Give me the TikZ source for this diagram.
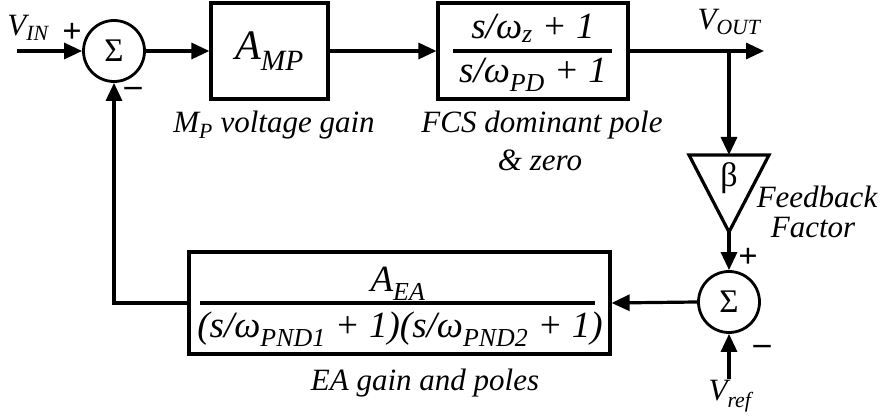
\documentclass[tikz,border=0pt]{standalone}
\usepackage{fontspec}
\setmainfont{Liberation Serif}[ItalicFont={Liberation Serif Italic}]
\usetikzlibrary{arrows.meta}
\tikzset{
  block/.style={draw, line width=3.2pt, inner sep=0pt},
  sumnode/.style={draw, circle, line width=2.8pt, minimum size=61pt, inner sep=0pt, font=\fontsize{33}{35}\selectfont},
  arr/.style={line width=3.2pt, -{Triangle[length=18pt,width=16pt]}},
  wire/.style={line width=3.2pt},
  lbl/.style={font=\fontsize{31}{34}\selectfont\itshape, inner sep=0pt},
  eqn/.style={font=\fontsize{37}{40}\selectfont\itshape, inner sep=0pt},
  sgn/.style={font=\fontsize{34}{36}\selectfont\bfseries, inner sep=0pt}
}
\begin{document}
\begin{tikzpicture}[x=1pt, y=-1pt]
    \useasboundingbox (0,0) rectangle (886,419);

    % Input summer
    \node[sumnode] (sum1) at (114,51) {Σ};
    \coordinate (vin) at (17,51);
    \node[lbl] (vinlbl) at (28,28) {V\textsubscript{IN}};
    \node[sgn] (plus1) at (72,33) {+};
    \node[sgn] (minus1) at (133,92) {–};

    % Mp gain
    \node[block, minimum width=117pt, minimum height=96pt] (amp) at (269.5,51) {};
    \node[eqn, font=\fontsize{42}{44}\selectfont\itshape] (amptxt) at (269.5,51) {A\textsubscript{MP}};
    \node[lbl] (amplbl) at (274,125) {M\textsubscript{P} voltage gain};

    % FCS pole and zero
    \node[block, minimum width=190pt, minimum height=96pt] (fcs) at (533,51) {};
    \node[eqn] (fcsnum) at (533,28) {s/ω\textsubscript{z} + 1};
    \node[eqn] (fcsden) at (533,75) {s/ω\textsubscript{PD} + 1};
    \draw[wire] (453,51) -- (612,51);
    \node[lbl] (fcslbl) at (542,125) {FCS dominant pole};
    \node[lbl] (fcslbl2) at (540,160) {\& zero};

    % Output
    \coordinate (vout) at (764,51);
    \coordinate (tap) at (729,51);
    \node[lbl] (voutlbl) at (729,22) {V\textsubscript{OUT}};

    % Feedback factor
    \coordinate (btop) at (729,155);
    \coordinate (btip) at (729,232);
    \draw[wire, line join=miter] (689,155) -- (769,155) -- (btip) -- cycle;
    \node[font=\fontsize{34}{36}\selectfont] (beta) at (729,178) {β};
    \node[lbl] (fblbl) at (817,197) {Feedback};
    \node[lbl] (fblbl2) at (813,228) {Factor};

    % Error summer
    \node[sumnode] (sum2) at (729,302) {Σ};
    \coordinate (vref) at (729,379);
    \node[lbl] (vreflbl) at (730,396) {V\textsubscript{ref}};
    \node[sgn] (plus2) at (748,258) {+};
    \node[sgn] (minus2) at (762,350) {–};

    % EA gain and poles
    \node[block, minimum width=421pt, minimum height=102pt] (ea) at (399.5,303) {};
    \node[eqn] (eanum) at (398,284) {A\textsubscript{EA}};
    \node[eqn] (eaden) at (400,329) {(s/ω\textsubscript{PND1} + 1)(s/ω\textsubscript{PND2} + 1)};
    \draw[wire] (200,303) -- (595,303);
    \node[lbl] (ealbl) at (425,383) {EA gain and poles};

    % Connections
    \draw[arr] (vin) -- (sum1.west);
    \draw[arr] (sum1.east) -- (amp.west);
    \draw[arr] (amp.east) -- (fcs.west);
    \draw[arr] (fcs.east) -- (vout);
    \draw[arr] (tap) -- (btop);
    \draw[arr] (btip) -- (sum2.north);
    \draw[arr] (vref) -- (sum2.south);
    \draw[arr] (sum2.west) -- (ea.east);
    \draw[arr] (ea.west) -| (sum1.south);
\end{tikzpicture}
\end{document}
